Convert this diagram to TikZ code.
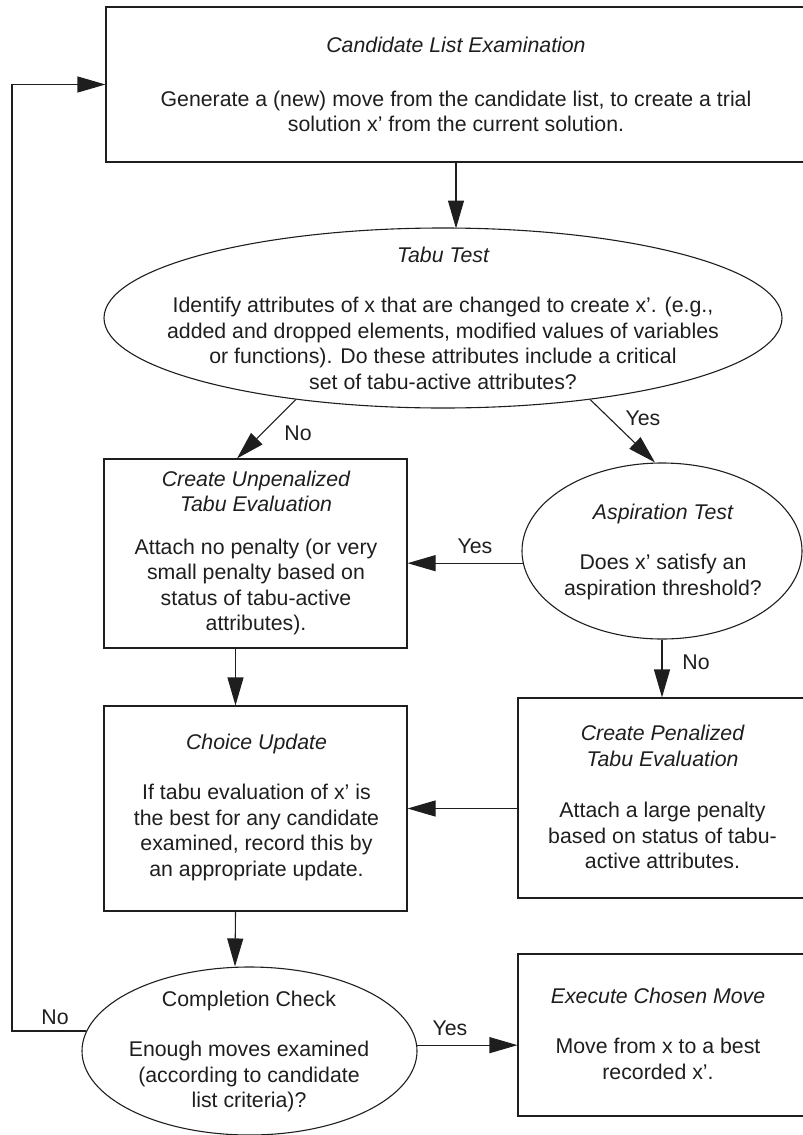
\documentclass[tikz,border=0pt]{standalone}
\usepackage{fontspec}
\setmainfont{Liberation Sans}
\usetikzlibrary{arrows.meta,calc,shapes.geometric}
\definecolor{ink}{HTML}{1E1E1E}
\tikzset{
  boxshape/.style={draw=ink, line width=1.1pt, rectangle, inner sep=0pt},
  ovalshape/.style={draw=ink, line width=1.1pt, ellipse, inner sep=0pt},
  txt/.style={text=ink, font=\fontsize{21.3}{25.5}\selectfont, align=center, inner sep=0pt},
  lbl/.style={text=ink, font=\fontsize{21.3}{25.5}\selectfont, inner sep=0pt},
  arr/.style={draw=ink, line width=1.1pt, -{Triangle[length=28pt,width=16pt]}},
  conn/.style={draw=ink, line width=1.1pt}
}
\begin{document}
\begin{tikzpicture}[x=1pt,y=-1pt]
\useasboundingbox (0,0) rectangle (803,1135);
\clip (0,0) rectangle (803,1135);
% shapes
\node[boxshape, minimum width=712pt, minimum height=155pt] (top) at (462,84.5) {};
\node[ovalshape, minimum width=678pt, minimum height=180pt] (tabu) at (443,318) {};
\node[boxshape, minimum width=303pt, minimum height=189pt] (unpen) at (255.5,553.5) {};
\node[ovalshape, minimum width=280pt, minimum height=176pt] (asp) at (662,551) {};
\node[boxshape, minimum width=300pt, minimum height=200pt] (pen) at (668,798) {};
\node[boxshape, minimum width=303pt, minimum height=205pt] (choice) at (255.5,808.5) {};
\node[ovalshape, minimum width=335pt, minimum height=168pt] (comp) at (249.5,1051) {};
\node[boxshape, minimum width=300pt, minimum height=162pt] (exec) at (668,1035) {};
% texts
\node[txt] (top-t) at (456,84.5) {\itshape Candidate List Examination\\[28pt]
Generate a (new) move from the candidate list, to create a trial\\
solution x’ from the current solution.};
\node[txt] (tabu-t) at (443,318) {\itshape Tabu Test\\[25pt]
Identify attributes of x that are changed to create x’. (e.g.,\\
added and dropped elements, modified values of variables\\
or functions). Do these attributes include a critical\\
set of tabu-active attributes?};
\node[txt] (unpen-t) at (256,553) {\itshape Create Unpenalized\\ \itshape Tabu Evaluation\\[17pt]
Attach no penalty (or very\\
small penalty based on\\
status of tabu-active\\
attributes).};
\node[txt] (asp-t) at (663,551.5) {\itshape Aspiration Test\\[25pt]
Does x’ satisfy an\\
aspiration threshold?};
\node[txt] (pen-t) at (662.5,797) {\itshape Create Penalized\\ \itshape Tabu Evaluation\\[26pt]
Attach a large penalty\\
based on status of tabu-\\
active attributes.};
\node[txt] (choice-t) at (256.5,807) {\itshape Choice Update\\[25pt]
If tabu evaluation of x’ is\\
the best for any candidate\\
examined, record this by\\
an appropriate update.};
\node[txt] (comp-t) at (249,1051.5) {Completion Check\\[25pt]
Enough moves examined\\
(according to candidate\\
list criteria)?};
\node[txt] (exec-t) at (658,1033.5) {\itshape Execute Chosen Move\\[25pt]
Move from x to a best\\
recorded x’.};
% connectors
\coordinate (loopx) at (12,0);
\draw[arr] (top.south -| 456,0) -- (456,228.5);
\draw[arr] (tabu.209) -- ($(unpen.north)+(-18.5,0)$);
\draw[arr] (tabu.331) -- ($(asp.north)+(-7,0)$);
\draw[arr] (asp.185) -- (asp.185 -| unpen.east);
\draw[arr] (asp.south) -- (asp.south |- pen.north);
\draw[arr] (pen.west |- choice.east) -- (choice.east);
\draw[arr] ($(unpen.south)+(-20,0)$) -- ($(choice.north)+(-20,0)$);
\draw[arr] ($(choice.south)+(-20,0)$) -- ($(comp.north)+(-14.5,0)$);
\draw[arr] (comp.173) -- (comp.173 -| loopx) -- (loopx |- top.west) -- (top.west);
\draw[arr] (comp.2.7) -- (comp.2.7 -| exec.west);
% labels
\node[lbl] (l-no1) at (298,433) {No};
\node[lbl] (l-yes1) at (643,418) {Yes};
\node[lbl] (l-yes2) at (475,546) {Yes};
\node[lbl] (l-no2) at (696,662) {No};
\node[lbl] (l-no3) at (55,1017) {No};
\node[lbl] (l-yes3) at (450,1028) {Yes};
\end{tikzpicture}
\end{document}
